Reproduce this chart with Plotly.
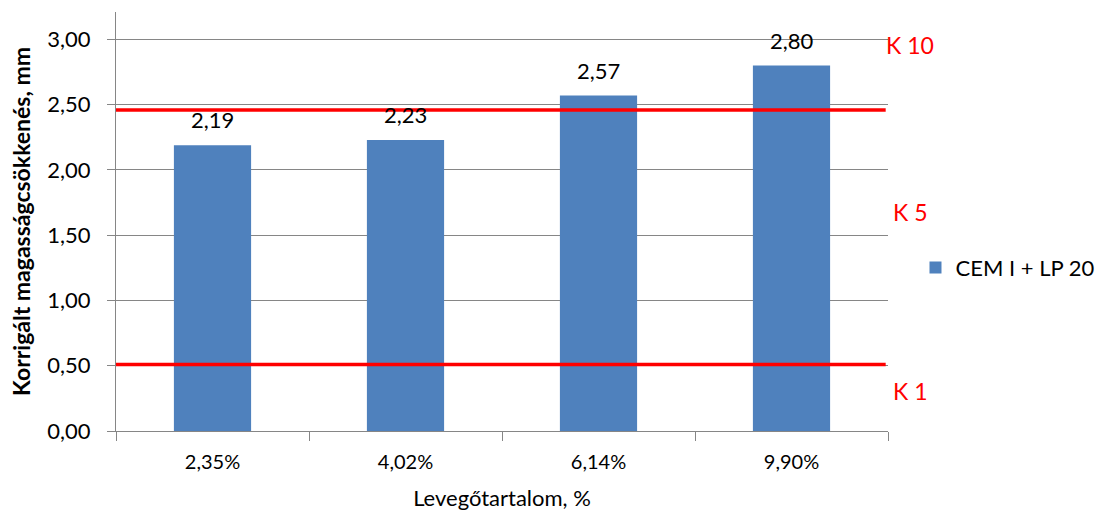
import plotly.graph_objects as go

# Air content categories and measured corrected height loss
categories = ["2,35%", "4,02%", "6,14%", "9,90%"]
values = [2.19, 2.23, 2.57, 2.80]
series_name = "CEM I + LP 20"

# Class limit lines and their labels
limit_values = [2.46, 0.51]
class_labels = ["K 10", "K 5", "K 1"]
class_label_y = [2.96, 1.68, 0.31]

y_ticks = [0, 0.5, 1.0, 1.5, 2.0, 2.5, 3.0]

FONT = "Lato"
GRID = "#868686"
BAR = "#4F81BD"

fig = go.Figure()
fig.add_trace(go.Bar(
    x=categories, y=values, name=series_name,
    marker=dict(color=BAR, line=dict(width=0)),
    width=0.4, showlegend=True,
))

# value labels above bars
for c, v in zip(categories, values):
    fig.add_annotation(x=c, y=v, text=f"{v:.2f}".replace(".", ","),
                       showarrow=False, yanchor="bottom", yshift=10,
                       font=dict(family=FONT, size=22, color="#000000"))

# red limit lines
for lv in limit_values:
    fig.add_shape(type="line", xref="paper", x0=0, x1=0.997, yref="y", y0=lv, y1=lv,
                  line=dict(color="#FF0000", width=3.5), layer="above")

# class labels at the right
for lab, ly in zip(class_labels, class_label_y):
    fig.add_annotation(xref="paper", x=1.0, xanchor="center", xshift=22, y=ly,
                       text=lab, showarrow=False,
                       font=dict(family=FONT, size=23, color="#FF0000"))

fig.update_layout(
    width=1103, height=520,
    margin=dict(l=116, r=215, t=12, b=89, autoexpand=False),
    plot_bgcolor="white", paper_bgcolor="white",
    separators=", ",
    bargap=0.6,
    font=dict(family=FONT, size=20, color="#000000"),
    legend=dict(xref="container", x=0.83, xanchor="left",
                yref="container", y=0.485, yanchor="middle",
                font=dict(family=FONT, size=22, color="#000000"),
                itemwidth=30, tracegroupgap=0),
    xaxis=dict(
        type="category", showline=True, linecolor=GRID, linewidth=1,
        ticks="outside", tickson="boundaries", ticklen=9, tickcolor=GRID,
        tickfont=dict(family=FONT, size=20), ticklabelstandoff=13,
        title=dict(text="Levegőtartalom, %", font=dict(family=FONT, size=22), standoff=18),
    ),
    yaxis=dict(
        range=[0, 3.21], tickvals=y_ticks, tickformat=".2f",
        showline=True, linecolor=GRID, linewidth=1,
        ticks="outside", ticklen=8, tickcolor=GRID,
        showgrid=True, gridcolor=GRID, gridwidth=1, zeroline=False,
        tickfont=dict(family=FONT, size=22), ticklabelstandoff=12,
        title=dict(text="<b>Korrigált magasságcsökkenés, mm</b>",
                   font=dict(family=FONT, size=23), standoff=10),
    ),
)

fig.write_html("out.html")
